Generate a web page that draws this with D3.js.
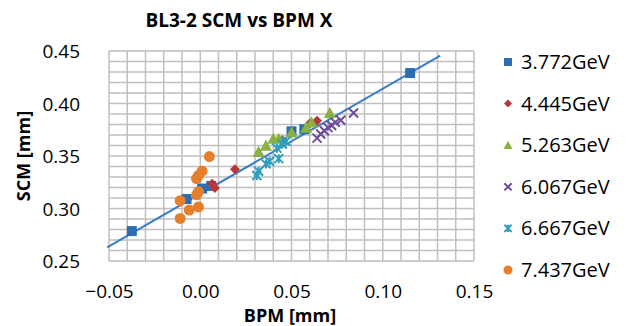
<!DOCTYPE html>
<html>
<head>
<meta charset="utf-8">
<script src="https://cdn.jsdelivr.net/npm/d3@7"></script>
<style>
  html, body { margin: 0; padding: 0; background: #fff; }
  svg { display: block; font-family: "Open Sans", "Liberation Sans", sans-serif; }
</style>
</head>
<body>
<svg id="chart" width="627" height="326"></svg>
<script>
// Beam energy series
const seriesNames = ["3.772GeV", "4.445GeV", "5.263GeV", "6.067GeV", "6.667GeV", "7.437GeV"];

// BPM X [mm] / SCM [mm] readings per series
const bpm3772 = [-0.0375, -0.0075, 0.001, 0.006, 0.050, 0.057, 0.115];
const scm3772 = [0.2785, 0.3090, 0.3190, 0.3215, 0.3735, 0.3755, 0.4290];

const bpm4445 = [0.019, 0.0065, 0.008, 0.045, 0.060, 0.064];
const scm4445 = [0.3375, 0.3235, 0.3195, 0.3650, 0.3810, 0.3835];

const bpm5263 = [0.032, 0.036, 0.040, 0.043, 0.050, 0.058, 0.061, 0.071];
const scm5263 = [0.3540, 0.3600, 0.3665, 0.3665, 0.3725, 0.3770, 0.3820, 0.3910];

const bpm6067 = [0.064, 0.066, 0.068, 0.070, 0.072, 0.074, 0.077, 0.084];
const scm6067 = [0.3670, 0.3710, 0.3740, 0.3770, 0.3790, 0.3820, 0.3840, 0.3910];

const bpm6667 = [0.031, 0.032, 0.036, 0.038, 0.043, 0.042, 0.045, 0.047];
const scm6667 = [0.3315, 0.3355, 0.3425, 0.3450, 0.3475, 0.3575, 0.3615, 0.3640];

const bpm7437 = [0.005, 0.001, -0.001, -0.002, -0.011, -0.002, -0.001, -0.006, -0.001, -0.011];
const scm7437 = [0.3495, 0.3355, 0.3315, 0.3285, 0.3075, 0.3130, 0.3160, 0.2985, 0.3015, 0.2905];

// Linear trend across all points
const trendSlope = 1.0;
const trendIntercept = 0.314;
const trendRange = [-0.051, 0.1315];

const xTicks = [-0.05, 0.00, 0.05, 0.10, 0.15];
const yTicks = [0.25, 0.30, 0.35, 0.40, 0.45];

const colors = ["#2F6DB3", "#B7373A", "#8AB144", "#6E4C9C", "#2E9FBE", "#E57F2C"];
const shapes = ["square", "diamond", "triangle", "cross", "star", "circle"];

const svg = d3.select("#chart");
const plot = { left: 109, right: 474, top: 51, bottom: 261 };

const x = d3.scaleLinear().domain([-0.05, 0.15]).range([plot.left, plot.right]);
const y = d3.scaleLinear().domain([0.25, 0.45]).range([plot.bottom, plot.top]);

// Gridlines every 0.01
const gridColor = "#BFBFBF";
const g = svg.append("g");
d3.range(0, 21).forEach(i => {
  const vx = -0.05 + i * 0.01;
  g.append("line").attr("x1", x(vx)).attr("x2", x(vx))
    .attr("y1", plot.top).attr("y2", plot.bottom)
    .attr("stroke", gridColor).attr("stroke-width", 1.5);
  const vy = 0.25 + i * 0.01;
  g.append("line").attr("x1", plot.left).attr("x2", plot.right)
    .attr("y1", y(vy)).attr("y2", y(vy))
    .attr("stroke", gridColor).attr("stroke-width", 1.5);
});

// Axes (labels only)
const xAxis = d3.axisBottom(x).tickValues(xTicks).tickSize(0).tickPadding(0)
  .tickFormat(d3.format(".2f"));
const yAxis = d3.axisLeft(y).tickValues(yTicks).tickSize(0).tickPadding(0)
  .tickFormat(d3.format(".2f"));

const gx = svg.append("g").attr("transform", `translate(0, ${plot.bottom + 37})`).call(xAxis);
gx.select(".domain").remove();
gx.selectAll("text").attr("dy", 0).attr("font-size", 19).attr("fill", "#000")
  .attr("font-family", "Open Sans, sans-serif");

const gy = svg.append("g").attr("transform", `translate(${plot.left - 29}, 0)`).call(yAxis);
gy.select(".domain").remove();
gy.selectAll("text").attr("dy", "0.35em").attr("font-size", 19).attr("fill", "#000")
  .attr("font-family", "Open Sans, sans-serif");

// Trendline
svg.append("line")
  .attr("x1", x(trendRange[0])).attr("y1", y(trendSlope * trendRange[0] + trendIntercept))
  .attr("x2", x(trendRange[1])).attr("y2", y(trendSlope * trendRange[1] + trendIntercept))
  .attr("stroke", "#3A7DC4").attr("stroke-width", 2);

// Marker drawing
function drawMarker(sel, shape, color, s) {
  if (shape === "square") {
    sel.append("rect").attr("x", -s / 2).attr("y", -s / 2).attr("width", s).attr("height", s).attr("fill", color);
  } else if (shape === "diamond") {
    const h = s * 0.5;
    sel.append("path").attr("d", `M0,${-h}L${h},0L0,${h}L${-h},0Z`).attr("fill", color);
  } else if (shape === "triangle") {
    const h = s * 0.55;
    sel.append("path").attr("d", `M0,${-h}L${h},${h * 0.85}L${-h},${h * 0.85}Z`).attr("fill", color);
  } else if (shape === "cross") {
    const h = s * 0.45;
    sel.append("path").attr("d", `M${-h},${-h}L${h},${h}M${h},${-h}L${-h},${h}`)
      .attr("stroke", color).attr("stroke-width", 2).attr("fill", "none");
  } else if (shape === "star") {
    const h = s * 0.45;
    sel.append("path").attr("d", `M${-h},${-h}L${h},${h}M${h},${-h}L${-h},${h}M0,${-h}L0,${h}`)
      .attr("stroke", color).attr("stroke-width", 2).attr("fill", "none");
  } else {
    sel.append("circle").attr("r", s / 2).attr("fill", color);
  }
}

const seriesData = [
  [bpm3772, scm3772], [bpm4445, scm4445], [bpm5263, scm5263],
  [bpm6067, scm6067], [bpm6667, scm6667], [bpm7437, scm7437]
];
const markerSize = [10, 10, 11, 10, 10, 11];

seriesData.forEach(([xs, ys], k) => {
  const pts = xs.map((v, i) => [v, ys[i]]);
  const grp = svg.append("g");
  pts.forEach(p => {
    const m = grp.append("g").attr("transform", `translate(${x(p[0])},${y(p[1])})`);
    drawMarker(m, shapes[k], colors[k], markerSize[k]);
  });
});

// Title and axis titles
svg.append("text").attr("x", 239).attr("y", 27).attr("text-anchor", "middle")
  .attr("font-size", 19).attr("font-weight", "bold").text("BL3-2 SCM vs BPM X");
svg.append("text").attr("x", 290).attr("y", 322).attr("text-anchor", "middle")
  .attr("font-size", 18).attr("font-weight", "bold").text("BPM [mm]");
svg.append("text").attr("transform", `translate(30, ${(plot.top + plot.bottom) / 2}) rotate(-90)`)
  .attr("text-anchor", "middle").attr("font-size", 18).attr("font-weight", "bold").text("SCM [mm]");

// Legend
const legend = svg.append("g").attr("transform", "translate(508, 62)");
seriesNames.forEach((name, k) => {
  const row = legend.append("g").attr("transform", `translate(0, ${k * 41.6})`);
  drawMarker(row, shapes[k], colors[k], k === 5 ? 9 : 8);
  row.append("text").attr("x", 13).attr("dy", "0.35em").attr("font-size", 20).text(name);
});
</script>
</body>
</html>
